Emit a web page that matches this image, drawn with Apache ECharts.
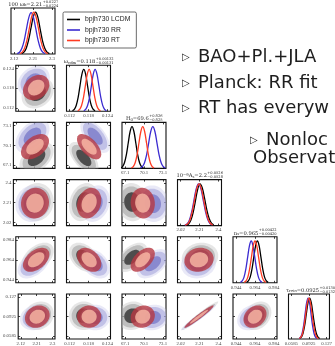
<!DOCTYPE html>
<html>
<head>
<meta charset="utf-8">
<script src="https://cdn.jsdelivr.net/npm/echarts@6/dist/echarts.min.js"></script>
<style>
html,body{margin:0;padding:0;background:#fff;overflow:hidden}
#c{width:335px;height:346px}
</style>
</head>
<body>
<div id="c"></div>
<script>
// ---- models ----
const modelNames = ['bpjh730 LCDM', 'bpjh730 RR', 'bpjh730 RT'];

// ---- tick labels per parameter (100 omega_b, omega_cdm, H0, 10^-9 A_s, n_s, tau_reio) ----
const tickWb   = [2.12, 2.21, 2.3];
const tickWcdm = [0.112, 0.118, 0.124];
const tickH0   = [67.1, 70.1, 73.1];
const tickAs   = [2.02, 2.21, 2.4];
const tickNs   = [0.944, 0.964, 0.984];
const tickTau  = [0.0585, 0.0925, 0.127];

// ---- 1D marginal posteriors [value, relative density] ----
const wbLCDM = [[2.156,0.011],[2.167,0.045],[2.178,0.14],[2.189,0.33],[2.200,0.61],[2.211,0.88],[2.222,1.0],[2.233,0.88],[2.244,0.6],[2.255,0.32],[2.266,0.135],[2.277,0.044],[2.288,0.01]];
const wbRR   = [[2.135,0.01],[2.146,0.043],[2.157,0.135],[2.168,0.32],[2.179,0.6],[2.190,0.87],[2.201,0.99],[2.212,0.88],[2.223,0.61],[2.234,0.33],[2.245,0.14],[2.256,0.045],[2.267,0.011]];
const wbRT   = [[2.148,0.011],[2.159,0.044],[2.170,0.135],[2.181,0.325],[2.192,0.6],[2.203,0.88],[2.214,1.0],[2.225,0.88],[2.236,0.61],[2.247,0.325],[2.258,0.135],[2.269,0.044],[2.280,0.011]];

const wcLCDM = [[0.1129,0.011],[0.1135,0.044],[0.1141,0.135],[0.1147,0.325],[0.1153,0.607],[0.1159,0.882],[0.1165,1.0],[0.1171,0.882],[0.1177,0.607],[0.1183,0.325],[0.1189,0.135],[0.1195,0.044],[0.1201,0.011]];
const wcRR   = [[0.1165,0.011],[0.1171,0.044],[0.1177,0.135],[0.1183,0.32],[0.1189,0.6],[0.1195,0.88],[0.1201,1.0],[0.1207,0.88],[0.1213,0.61],[0.1219,0.33],[0.1225,0.14],[0.1231,0.045],[0.1237,0.011]];
const wcRT   = [[0.1146,0.011],[0.1152,0.044],[0.1158,0.135],[0.1164,0.325],[0.1170,0.607],[0.1176,0.88],[0.1182,1.0],[0.1188,0.88],[0.1194,0.607],[0.1200,0.325],[0.1206,0.135],[0.1212,0.044],[0.1218,0.011]];

const h0LCDM = [[66.4,0.011],[66.7,0.044],[67.0,0.135],[67.3,0.325],[67.6,0.607],[67.9,0.882],[68.2,1.0],[68.5,0.882],[68.8,0.607],[69.1,0.325],[69.4,0.135],[69.7,0.044],[70.0,0.011]];
const h0RR   = [[69.52,0.011],[69.85,0.044],[70.18,0.135],[70.51,0.325],[70.84,0.607],[71.17,0.882],[71.5,1.0],[71.83,0.882],[72.16,0.607],[72.49,0.325],[72.82,0.135],[73.15,0.044],[73.48,0.011]];
const h0RT   = [[68.1,0.011],[68.4,0.044],[68.7,0.135],[69.0,0.325],[69.3,0.607],[69.6,0.882],[69.9,1.0],[70.2,0.882],[70.5,0.607],[70.8,0.325],[71.1,0.135],[71.4,0.044],[71.7,0.011]];

const asLCDM = [[2.077,0.01],[2.100,0.04],[2.123,0.125],[2.146,0.31],[2.169,0.59],[2.192,0.87],[2.215,1.0],[2.238,0.9],[2.261,0.65],[2.284,0.37],[2.307,0.17],[2.330,0.06],[2.353,0.02]];
const asRR   = [[2.062,0.01],[2.085,0.04],[2.108,0.13],[2.131,0.32],[2.154,0.6],[2.177,0.88],[2.200,1.0],[2.223,0.89],[2.246,0.63],[2.269,0.35],[2.292,0.15],[2.315,0.05],[2.338,0.015]];
const asRT   = [[2.067,0.01],[2.090,0.04],[2.113,0.13],[2.136,0.32],[2.159,0.6],[2.182,0.88],[2.205,1.0],[2.228,0.89],[2.251,0.63],[2.274,0.35],[2.297,0.15],[2.320,0.05],[2.343,0.015]];

const nsLCDM = [[0.9551,0.011],[0.9570,0.044],[0.9589,0.135],[0.9608,0.325],[0.9627,0.607],[0.9646,0.882],[0.9665,1.0],[0.9684,0.882],[0.9703,0.607],[0.9722,0.325],[0.9741,0.135],[0.9760,0.044],[0.9779,0.011]];
const nsRR   = [[0.9486,0.011],[0.9505,0.044],[0.9524,0.135],[0.9543,0.325],[0.9562,0.607],[0.9581,0.882],[0.9600,1.0],[0.9619,0.882],[0.9638,0.607],[0.9657,0.325],[0.9676,0.135],[0.9695,0.044],[0.9714,0.011]];
const nsRT   = [[0.9526,0.011],[0.9545,0.044],[0.9564,0.135],[0.9583,0.325],[0.9602,0.607],[0.9621,0.882],[0.9640,1.0],[0.9659,0.882],[0.9678,0.607],[0.9697,0.325],[0.9716,0.135],[0.9735,0.044],[0.9754,0.011]];

const tauLCDM = [[0.0745,0.011],[0.0778,0.044],[0.0810,0.135],[0.0843,0.325],[0.0875,0.607],[0.0908,0.882],[0.0940,1.0],[0.0973,0.882],[0.1005,0.607],[0.1038,0.325],[0.1070,0.135],[0.1103,0.044],[0.1135,0.011]];
const tauRR   = [[0.0736,0.011],[0.0765,0.044],[0.0794,0.135],[0.0823,0.325],[0.0852,0.607],[0.0881,0.882],[0.0910,1.0],[0.0939,0.882],[0.0968,0.607],[0.0997,0.325],[0.1026,0.135],[0.1055,0.044],[0.1084,0.011]];
const tauRT   = [[0.0739,0.011],[0.0770,0.044],[0.0801,0.135],[0.0832,0.325],[0.0863,0.607],[0.0894,0.882],[0.0925,1.0],[0.0956,0.882],[0.0987,0.607],[0.1018,0.325],[0.1049,0.135],[0.1080,0.044],[0.1111,0.011]];

// ---- 2D posterior summaries: centres, widths, pair correlations ----
const meanLCDM = [2.222, 0.1165, 68.2, 2.215, 0.9665, 0.0940];
const meanRR   = [2.201, 0.1201, 71.5, 2.200, 0.9600, 0.0910];
const meanRT   = [2.214, 0.1182, 69.9, 2.205, 0.9640, 0.0925];
const sigLCDM  = [0.022, 0.0012, 0.62, 0.047, 0.0038, 0.0065];
const sigRR    = [0.022, 0.0012, 0.65, 0.045, 0.0038, 0.0058];
const sigRT    = [0.022, 0.0012, 0.60, 0.046, 0.0038, 0.0062];
const pairCorr = [
  [],
  [0.25],
  [0.45, -0.6],
  [0.05, 0.2, -0.05],
  [0.45, -0.35, 0.5, 0.1],
  [0.15, 0.0, 0.1, 0.97, 0.25]
];
// contour radii in units of sigma: faint outer haze, outer and inner levels
const hazeSigma = 3.9;
const contourSigmas = [3.2, 2.0];

// ---- panel titles ----
const titleMain = [
  [['100 ω',0],['b',1],['=2.21',0]],
  [['ω',0],['cdm',1],['=0.118',0]],
  [['H',0],['0',1],['=69.6',0]],
  [['10',0],['−9',2],['A',0],['s',1],['=2.2',0]],
  [['n',0],['s',1],['=0.965',0]],
  [['τ',0],['reio',1],['=0.0925',0]]
];
const titleErr = [
  ['+0.0227', '−0.0224'],
  ['+0.00132', '−0.00131'],
  ['+0.826', '−0.825'],
  ['+0.0526', '−0.0528'],
  ['+0.00422', '−0.00420'],
  ['+0.0130', '−0.0132']
];

// ---- slide text ----
const bulletLines = ['BAO+Pl.+JLA', 'Planck: RR fit', 'RT has everyw'];
const subBulletLine = 'Nonloc';
const continuationLine = 'Observat';

// ================= drawing =================
const curves = [
  [wbLCDM, wbRR, wbRT],
  [wcLCDM, wcRR, wcRT],
  [h0LCDM, h0RR, h0RT],
  [asLCDM, asRR, asRT],
  [nsLCDM, nsRR, nsRT],
  [tauLCDM, tauRR, tauRT]
];
const paramTicks = [tickWb, tickWcdm, tickH0, tickAs, tickNs, tickTau];
const means = [meanLCDM, meanRR, meanRT];
const sigmas = [sigLCDM, sigRR, sigRT];

const lineColors = ['#000000', '#3b2bd0', '#ff3b22'];
// fills: [haze, outer, inner] per model
const contourFills = [
  ['rgba(200,200,200,0.45)', 'rgba(150,150,150,0.5)', 'rgba(58,58,58,0.85)'],
  ['rgba(200,200,234,0.40)', 'rgba(160,160,218,0.55)', 'rgba(115,115,198,0.72)'],
  [null, 'rgba(182,56,66,0.80)', 'rgba(250,186,166,0.80)']
];
const flatFills = [];
contourFills.forEach(a => a.forEach(f => flatFills.push(f)));

const NP = 6;
const PANEL_LEFT0 = 11, PANEL_DX = 55.5, PANEL_W = 44;
const PANEL_TOP0 = 8, PANEL_DY = 57.2, PANEL_H = 46;

function extent(t) {
  const span = t[t.length - 1] - t[0];
  return [t[0] - 0.0814 * span, t[t.length - 1] + 0.0814 * span];
}

function axisCfg(g, pos, range, ticks, labels) {
  return {
    gridIndex: g, type: 'value', position: pos,
    min: range[0], max: range[1],
    axisLine: { show: false, onZero: false },
    splitLine: { show: false },
    axisTick: { show: true, inside: true, length: 2, customValues: ticks,
      lineStyle: { color: '#111', width: 0.8 } },
    axisLabel: { show: labels, customValues: ticks, fontSize: 4.8, color: '#444',
      margin: 2, fontFamily: 'Liberation Serif', formatter: v => String(v) }
  };
}

function renderEllipse(params, api) {
  const cx = api.value(0), cy = api.value(1);
  const sx = api.value(2), sy = api.value(3);
  const rho = api.value(4), r = api.value(5), fi = api.value(6);
  const q = Math.sqrt(Math.max(0, 1 - rho * rho));
  const pts = [];
  const n = 60;
  for (let k = 0; k < n; k++) {
    const t = 2 * Math.PI * k / n;
    const c = Math.cos(t), s = Math.sin(t);
    pts.push(api.coord([cx + r * sx * c, cy + r * sy * (rho * c + q * s)]));
  }
  return { type: 'polygon', shape: { points: pts }, style: { fill: flatFills[fi] } };
}

const grids = [], xAxes = [], yAxes = [], series = [];
for (let i = 0; i < NP; i++) {
  for (let j = 0; j <= i; j++) {
    const g = grids.length;
    const left = PANEL_LEFT0 + PANEL_DX * j;
    const top = PANEL_TOP0 + PANEL_DY * i;
    grids.push({ left: left, top: top, width: PANEL_W, height: PANEL_H, show: true,
      borderColor: '#111', borderWidth: 1.1, backgroundColor: 'transparent' });
    const xr = extent(paramTicks[j]);
    xAxes.push(axisCfg(g, 'bottom', xr, paramTicks[j], i === NP - 1 || i === j));
    xAxes.push(axisCfg(g, 'top', xr, paramTicks[j], false));
    if (i === j) {
      yAxes.push({ gridIndex: g, type: 'value', min: 0, max: 1.1, show: false });
      yAxes.push({ gridIndex: g, type: 'value', min: 0, max: 1.1, show: false, position: 'right' });
      for (let m = 0; m < 3; m++) {
        series.push({
          type: 'line', name: modelNames[m], xAxisIndex: 2 * g, yAxisIndex: 2 * g,
          data: curves[i][m], showSymbol: false, smooth: 0.35, clip: true, silent: true,
          lineStyle: { color: lineColors[m], width: 1.3 }, itemStyle: { color: lineColors[m] },
          z: 3 + m
        });
      }
    } else {
      const yr = extent(paramTicks[i]);
      yAxes.push(axisCfg(g, 'left', yr, paramTicks[i], j === 0));
      yAxes.push(axisCfg(g, 'right', yr, paramTicks[i], false));
      const ell = [];
      const rho = pairCorr[i][j];
      for (let m = 0; m < 3; m++) {
        const mu = means[m], sg = sigmas[m];
        const radii = [hazeSigma].concat(contourSigmas);
        radii.forEach((r, lv) => {
          if (!contourFills[m][lv]) return;
          ell.push([mu[j], mu[i], sg[j], sg[i], rho, r, m * 3 + lv]);
        });
      }
      series.push({
        type: 'custom', xAxisIndex: 2 * g, yAxisIndex: 2 * g, data: ell,
        renderItem: renderEllipse, clip: true, silent: true, z: 2
      });
    }
  }
}

// ---- titles above the 1D panels ----
const measureCtx = document.createElement('canvas').getContext('2d');
const T_MAIN = 5.2, T_SUB = 3.8, T_ERR = 3.6, T_FONT = 'DejaVu Serif';
function textW(s, size) { measureCtx.font = size + 'px "' + T_FONT + '"'; return measureCtx.measureText(s).width; }
const graphics = [];
for (let i = 0; i < NP; i++) {
  const parts = titleMain[i];
  let wMain = 0, rich = '';
  parts.forEach(p => {
    const key = p[1] === 0 ? 'm' : (p[1] === 1 ? 'b' : 'u');
    wMain += textW(p[0], p[1] === 0 ? T_MAIN : T_SUB);
    rich += '{' + key + '|' + p[0] + '}';
  });
  const wErr = Math.max(textW(titleErr[i][0], T_ERR), textW(titleErr[i][1], T_ERR));
  const cx = PANEL_LEFT0 + PANEL_DX * i + PANEL_W / 2;
  const anchor = cx + (wMain - wErr) / 2;
  const ty = PANEL_TOP0 + PANEL_DY * i - 3.6;
  graphics.push({
    type: 'text', x: anchor, y: ty, silent: true,
    style: { text: rich, align: 'right', verticalAlign: 'middle', fill: '#222',
      rich: {
        m: { fontSize: T_MAIN, fontFamily: T_FONT, fill: '#222' },
        b: { fontSize: T_SUB, fontFamily: T_FONT, fill: '#222', padding: [2.2, 0, 0, 0] },
        u: { fontSize: T_SUB, fontFamily: T_FONT, fill: '#222', padding: [0, 0, 2.2, 0] }
      } }
  });
  graphics.push({
    type: 'text', x: anchor + 0.4, y: ty - 0.8, silent: true,
    style: { text: titleErr[i][0] + '\n' + titleErr[i][1], align: 'left', verticalAlign: 'middle',
      fontSize: T_ERR, lineHeight: 4.0, fontFamily: T_FONT, fill: '#222' }
  });
}

// ---- slide bullets ----
const BODY_FONT = 'DejaVu Sans', BODY_SIZE = 18, BODY_COLOR = '#1e1e1e';
const bulletY = [57, 83, 108];
bulletLines.forEach((s, k) => {
  graphics.push({ type: 'text', x: 182, y: bulletY[k], silent: true,
    style: { text: '▷', fontSize: 10, fontFamily: 'DejaVu Sans', fill: BODY_COLOR, verticalAlign: 'middle' } });
  graphics.push({ type: 'text', x: 198, y: bulletY[k], silent: true,
    style: { text: s, fontSize: BODY_SIZE, fontFamily: BODY_FONT, fill: BODY_COLOR, verticalAlign: 'middle' } });
});
graphics.push({ type: 'text', x: 250, y: 140, silent: true,
  style: { text: '▷', fontSize: 10, fontFamily: 'DejaVu Sans', fill: BODY_COLOR, verticalAlign: 'middle' } });
graphics.push({ type: 'text', x: 266, y: 140, silent: true,
  style: { text: subBulletLine, fontSize: BODY_SIZE, fontFamily: BODY_FONT, fill: BODY_COLOR, verticalAlign: 'middle' } });
graphics.push({ type: 'text', x: 253, y: 158, silent: true,
  style: { text: continuationLine, fontSize: BODY_SIZE, fontFamily: BODY_FONT, fill: BODY_COLOR, verticalAlign: 'middle' } });

const chart = echarts.init(document.getElementById('c'), null, { renderer: 'canvas', width: 335, height: 346 });
chart.setOption({
  animation: false,
  backgroundColor: '#ffffff',
  grid: grids,
  xAxis: xAxes,
  yAxis: yAxes,
  legend: {
    data: modelNames, orient: 'vertical', left: 63, top: 12,
    icon: 'rect', itemWidth: 13, itemHeight: 1.6, itemGap: 3.5,
    textStyle: { fontSize: 6.8, color: '#222', fontFamily: 'Liberation Sans' },
    borderColor: '#444', borderWidth: 0.8, borderRadius: 1.5, padding: [4, 6, 4, 4],
    selectedMode: false
  },
  graphic: graphics,
  series: series
});
</script>
</body>
</html>
